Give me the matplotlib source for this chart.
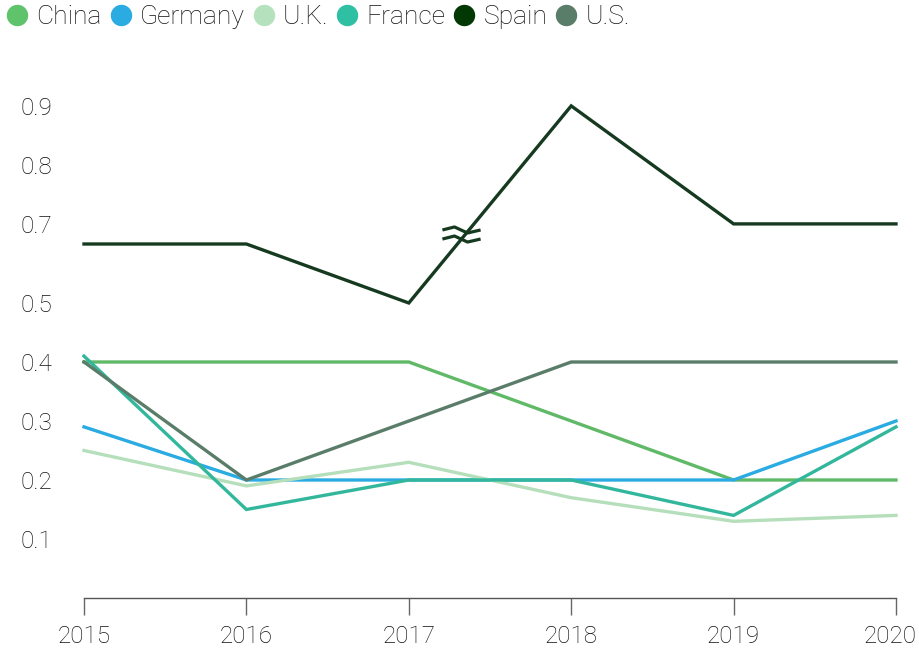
import numpy as np
import matplotlib
matplotlib.use("Agg")
import matplotlib.pyplot as plt
import matplotlib.transforms as mtransforms
from matplotlib.path import Path
from matplotlib.lines import Line2D

plt.rcParams['font.family'] = ['Roboto', 'DejaVu Sans']

years = [2015, 2016, 2017, 2018, 2019, 2020]
china = [0.40, 0.40, 0.40, 0.30, 0.20, 0.20]
germany = [0.29, 0.20, 0.20, 0.20, 0.20, 0.30]
uk = [0.25, 0.19, 0.23, 0.17, 0.13, 0.14]
france = [0.41, 0.15, 0.20, 0.20, 0.14, 0.29]
spain = [0.60, 0.60, 0.50, 0.90, 0.70, 0.70]
us = [0.40, 0.20, 0.30, 0.40, 0.40, 0.40]

series_names = ["China", "Germany", "U.K.", "France", "Spain", "U.S."]
series_values = [china, germany, uk, france, spain, us]
line_colors = ["#60b967", "#2aabe2", "#b5dfbb", "#32b79c", "#163a1f", "#5a7d6a"]
legend_colors = ["#5ec36b", "#2aabe2", "#b5e2bd", "#2fbfa2", "#023803", "#5a7d6a"]

yticks = [0.1, 0.2, 0.3, 0.4, 0.5, 0.7, 0.8, 0.9]

# broken axis scale
LO, HI, EPS = 0.6167, 0.6833, 0.01
REMOVED = (HI - LO) * (1 - EPS)

def fwd(v):
    v = np.asarray(v, dtype=float)
    return np.where(v <= LO, v, np.where(v >= HI, v - REMOVED, LO + (v - LO) * EPS))

def inv(t):
    t = np.asarray(t, dtype=float)
    tlo = LO
    thi = LO + (HI - LO) * EPS
    return np.where(t <= tlo, t, np.where(t >= thi, t + REMOVED, LO + (t - LO) / EPS))

W, H, DPI = 920, 650, 100
fig = plt.figure(figsize=(W / DPI, H / DPI), dpi=DPI)
ax_left, ax_right = 84 / W, 896 / W
ax_bottom = (H - 598) / H
ax_top_px = 598 - (0.95 - REMOVED) * 590
ax_h = (598 - ax_top_px) / H
ax = fig.add_axes([ax_left, ax_bottom, ax_right - ax_left, ax_h])
ax.set_yscale('function', functions=(fwd, inv))

for name, vals, c in zip(series_names, series_values, line_colors):
    ax.plot(years, vals, color=c, lw=2.4, solid_joinstyle='miter', zorder=3, clip_on=False)

# break marker on the axis break
wave = [(-19, 0), (-7, 3), (6, -3), (19, 0)]
verts, codes = [], []
for dy in (4.5, -4.5):
    for i, (x, y) in enumerate(wave):
        verts.append((x, y + dy))
        codes.append(Path.MOVETO if i == 0 else Path.LINETO)
brk = Path(verts, codes)
ax.plot([2017.32], [LO], marker=brk, markersize=27.5, markerfacecolor='none',
        markeredgecolor=line_colors[4], markeredgewidth=2.3, linestyle='none', zorder=4)

ax.set_xlim(2015, 2020)
ax.set_ylim(0, 0.95)
ax.set_xticks(years)
ax.set_xticklabels([str(y) for y in years])
ax.set_yticks(yticks)
ax.set_yticklabels([f"{v:.1f}" for v in yticks])

for s in ['top', 'right', 'left']:
    ax.spines[s].set_visible(False)
ax.spines['bottom'].set_color('#555555')
ax.spines['bottom'].set_linewidth(1.0)

ax.tick_params(axis='x', direction='out', length=12.5, width=1.0, color='#666666',
               pad=7, labelsize=17.5, labelcolor='#111111')
ax.tick_params(axis='y', length=0, pad=45.4, labelsize=17.5, labelcolor='#111111')
for lab in ax.get_yticklabels():
    lab.set_horizontalalignment('left')
for lab in ax.get_xticklabels() + ax.get_yticklabels():
    lab.set_fontweight('light')

# keep the last year label inside the figure
last = ax.get_xticklabels()[-1]
last.set_transform(last.get_transform() + mtransforms.ScaledTranslation(-4 / 72, 0, fig.dpi_scale_trans))

handles = [Line2D([], [], marker='o', linestyle='none', markersize=14.4,
                  markerfacecolor=c, markeredgecolor=c) for c in legend_colors]
leg = fig.legend(handles, series_names, loc='center left', bbox_to_anchor=(7 / W, 1 - 17 / H),
                 ncol=6, frameon=False, fontsize=19, handlelength=0.78,
                 handletextpad=0.34, columnspacing=0.32, borderaxespad=0.0, borderpad=0.0)
for t in leg.get_texts():
    t.set_color('#111111')
    t.set_fontweight('light')

fig.savefig("out.png", dpi=DPI)
